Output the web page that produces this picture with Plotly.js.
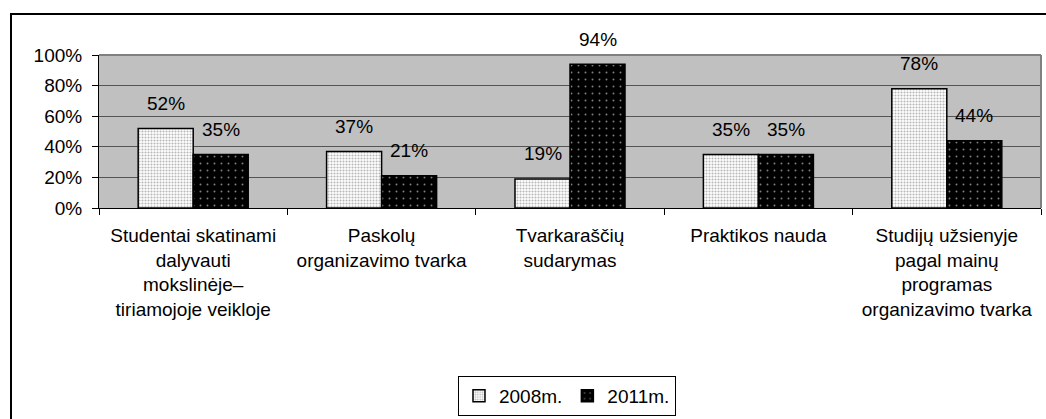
<!DOCTYPE html>
<html>
<head>
<meta charset="utf-8">
<script src="https://cdn.plot.ly/plotly-3.0.1.min.js"></script>
<style>
  html, body { margin: 0; padding: 0; background: #fff; width: 1046px; height: 419px; overflow: hidden; }
  #frame { position: absolute; left: 10px; top: 13px; width: 1100px; height: 500px; border: 2px solid #000; box-sizing: border-box; }
  #chart { position: absolute; left: 0; top: 0; width: 1046px; height: 419px; }
</style>
</head>
<body>
<div id="frame"></div>
<div id="chart"></div>
<script>
const categories = [
  "Studentai skatinami<br>dalyvauti<br>mokslinėje–<br>tiriamojoje veikloje",
  "Paskolų<br>organizavimo tvarka",
  "Tvarkaraščių<br>sudarymas",
  "Praktikos nauda",
  "Studijų užsienyje<br>pagal mainų<br>programas<br>organizavimo tvarka"
];
const seriesNames = ["2008m.", "2011m."];
const values2008 = [0.52, 0.37, 0.19, 0.35, 0.78];
const values2011 = [0.35, 0.21, 0.94, 0.35, 0.44];
const yTickValues = [0, 0.2, 0.4, 0.6, 0.8, 1.0];

const FONT = "Liberation Sans, Arial, sans-serif";
const FS = 19;

const trace2008 = {
  type: "bar", name: seriesNames[0], x: categories, y: values2008,
  marker: {
    color: "#ffffff",
    line: { color: "#000", width: 1.5 },
    pattern: { shape: ".", size: 3, solidity: 0.4, fgcolor: "#707070", bgcolor: "#ffffff", fillmode: "overlay" }
  },
  hoverinfo: "skip"
};
const trace2011 = {
  type: "bar", name: seriesNames[1], x: categories, y: values2011,
  marker: {
    color: "#000000",
    line: { color: "#000", width: 1.5 },
    pattern: { shape: ".", size: 7, solidity: 0.06, fgcolor: "#ffffff", bgcolor: "#000000", fillmode: "overlay" }
  },
  hoverinfo: "skip"
};

const annotations = [];
[values2008, values2011].forEach((vals, si) => {
  vals.forEach((v, i) => {
    annotations.push({
      x: categories[i], y: v, xref: "x", yref: "y",
      xshift: si === 0 ? -27.5 : 27.5, yshift: 25,
      text: Math.round(v * 100) + "%", showarrow: false,
      xanchor: "center", yanchor: "middle",
      font: { family: FONT, size: FS, color: "#000" }
    });
  });
});

const layout = {
  width: 1046, height: 419,
  margin: { l: 99, r: 5, t: 55, b: 210 },
  paper_bgcolor: "rgba(0,0,0,0)",
  plot_bgcolor: "#c0c0c0",
  font: { family: FONT, size: FS, color: "#000" },
  barmode: "group", bargap: 0.416, bargroupgap: 0,
  showlegend: true,
  legend: {
    orientation: "h", x: 0.4968, y: -1.214, xanchor: "center", yanchor: "middle",
    bgcolor: "#fff", bordercolor: "#000", borderwidth: 1,
    font: { family: FONT, size: FS, color: "#000" },
    itemwidth: 30, tracegroupgap: 0
  },
  xaxis: {
    type: "category", showgrid: false, zeroline: false,
    showline: true, linecolor: "#000", linewidth: 1,
    ticks: "outside", tickson: "boundaries", ticklen: 6, tickcolor: "#000",
    ticklabelstandoff: 10,
    tickfont: { family: FONT, size: FS, color: "#000" },
    fixedrange: true
  },
  yaxis: {
    range: [0, 1], tickvals: yTickValues, tickformat: ".0%",
    showgrid: true, gridcolor: "#555", gridwidth: 1, zeroline: false,
    showline: true, linecolor: "#000", linewidth: 1,
    ticks: "outside", ticklen: 6, tickcolor: "#000",
    ticklabelstandoff: 6,
    tickfont: { family: FONT, size: FS, color: "#000" },
    fixedrange: true
  },
  shapes: [
    { type: "line", xref: "paper", yref: "paper", x0: 0, x1: 1, y0: 1, y1: 1, line: { color: "#808080", width: 2 } },
    { type: "line", xref: "paper", yref: "paper", x0: 1, x1: 1, y0: 0, y1: 1, line: { color: "#808080", width: 2 } }
  ],
  annotations: annotations
};

Plotly.newPlot("chart", [trace2008, trace2011], layout, { staticPlot: true, displayModeBar: false });
</script>
</body>
</html>
